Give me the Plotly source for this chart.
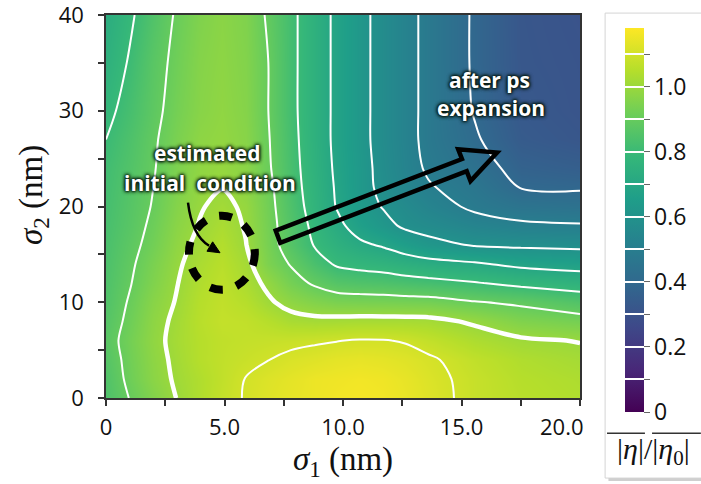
import plotly.graph_objects as go

# Sample positions (nm) of the |eta|/|eta0| map
sigma1_nm = [0, 1.05, 2.0, 3.0, 3.95, 4.9, 5.9, 6.85, 7.8, 8.8, 9.75,
             10.7, 11.7, 12.65, 13.6, 15.55, 17.5, 20]
sigma2_nm = [0, 2, 4, 6, 8, 10, 12, 14, 16, 18, 20, 22, 24, 27, 30, 35, 40]

# |eta|/|eta0|, one row per sigma2 value (rows follow sigma2_nm)
row_s2_00 = [0.845, 0.905, 0.955, 1.002, 1.040, 1.075, 1.105, 1.125, 1.140, 1.150, 1.160, 1.165, 1.160, 1.145, 1.125, 1.080, 1.055, 1.040]
row_s2_02 = [0.850, 0.920, 0.970, 1.010, 1.040, 1.070, 1.102, 1.120, 1.135, 1.150, 1.155, 1.160, 1.155, 1.140, 1.120, 1.080, 1.050, 1.035]
row_s2_04 = [0.860, 0.925, 0.975, 1.015, 1.050, 1.070, 1.085, 1.099, 1.115, 1.125, 1.135, 1.140, 1.135, 1.125, 1.110, 1.070, 1.040, 1.020]
row_s2_06 = [0.870, 0.930, 0.980, 1.020, 1.050, 1.068, 1.075, 1.080, 1.085, 1.092, 1.098, 1.104, 1.103, 1.095, 1.075, 1.035, 1.010, 0.997]
row_s2_08 = [0.860, 0.920, 0.975, 1.015, 1.055, 1.075, 1.070, 1.050, 1.025, 1.018, 1.020, 1.023, 1.023, 1.022, 1.020, 0.990, 0.950, 0.930]
row_s2_10 = [0.850, 0.910, 0.965, 1.005, 1.050, 1.070, 1.050, 1.010, 0.977, 0.954, 0.940, 0.937, 0.935, 0.932, 0.929, 0.905, 0.887, 0.853]
row_s2_12 = [0.845, 0.898, 0.950, 0.998, 1.040, 1.065, 1.030, 0.985, 0.930, 0.890, 0.860, 0.850, 0.845, 0.835, 0.826, 0.805, 0.780, 0.757]
row_s2_14 = [0.840, 0.890, 0.940, 0.990, 1.030, 1.055, 1.020, 0.945, 0.895, 0.835, 0.790, 0.775, 0.763, 0.745, 0.730, 0.710, 0.680, 0.665]
row_s2_16 = [0.835, 0.880, 0.925, 0.980, 1.015, 1.045, 1.002, 0.935, 0.860, 0.795, 0.750, 0.715, 0.690, 0.655, 0.624, 0.593, 0.585, 0.580]
row_s2_18 = [0.830, 0.870, 0.915, 0.970, 1.003, 1.030, 0.995, 0.930, 0.855, 0.780, 0.720, 0.665, 0.625, 0.585, 0.570, 0.535, 0.515, 0.507]
row_s2_20 = [0.825, 0.865, 0.905, 0.960, 0.995, 1.015, 0.990, 0.925, 0.845, 0.765, 0.695, 0.640, 0.595, 0.565, 0.535, 0.485, 0.455, 0.445]
row_s2_22 = [0.820, 0.860, 0.900, 0.950, 0.985, 0.998, 0.975, 0.920, 0.835, 0.760, 0.690, 0.630, 0.580, 0.540, 0.507, 0.465, 0.397, 0.390]
row_s2_24 = [0.815, 0.855, 0.895, 0.945, 0.980, 0.990, 0.970, 0.910, 0.830, 0.755, 0.685, 0.630, 0.575, 0.530, 0.490, 0.440, 0.370, 0.355]
row_s2_27 = [0.800, 0.845, 0.890, 0.940, 0.975, 0.985, 0.965, 0.905, 0.825, 0.750, 0.680, 0.625, 0.570, 0.525, 0.480, 0.410, 0.340, 0.320]
row_s2_30 = [0.780, 0.830, 0.880, 0.930, 0.965, 0.980, 0.960, 0.900, 0.820, 0.750, 0.680, 0.625, 0.570, 0.525, 0.480, 0.395, 0.330, 0.312]
row_s2_35 = [0.750, 0.810, 0.870, 0.920, 0.960, 0.975, 0.955, 0.900, 0.820, 0.750, 0.680, 0.625, 0.570, 0.525, 0.480, 0.390, 0.322, 0.310]
row_s2_40 = [0.730, 0.790, 0.850, 0.910, 0.950, 0.970, 0.950, 0.890, 0.820, 0.750, 0.680, 0.625, 0.570, 0.525, 0.480, 0.390, 0.320, 0.305]

eta_ratio = [row_s2_00, row_s2_02, row_s2_04, row_s2_06, row_s2_08, row_s2_10,
             row_s2_12, row_s2_14, row_s2_16, row_s2_18, row_s2_20, row_s2_22,
             row_s2_24, row_s2_27, row_s2_30, row_s2_35, row_s2_40]

x_tick_vals = [0, 5, 10, 15, 20]
x_tick_text = ["0", "5.0", "10.0", "15.0", ""]   # last label is placed separately
x_last_label = "20.0"
y_tick_vals = [0, 10, 20, 30, 40]
y_tick_text = ["0", "10", "20", "30", "40"]
cb_tick_vals = [0, 0.1, 0.2, 0.3, 0.4, 0.5, 0.6, 0.7, 0.8, 0.9, 1.0, 1.1]
cb_tick_text = ["0", "", "0.2", "", "0.4", "", "0.6", "", "0.8", "", "1.0", ""]

SANS = "Open Sans"
SERIF = "Liberation Serif"
TICK_FONT = dict(family=SANS, size=22, color="#111111")
TITLE_FONT = dict(family=SERIF, size=33, color="#111111")
GLOW = "#06180f"
LABEL_FONT = dict(family=SANS, size=21, color="white", weight="bold",
                  shadow=f"0px 0px 2px {GLOW}, 0px 0px 3px {GLOW}, 0px 0px 4px {GLOW}, 0px 0px 4px {GLOW}")

fig = go.Figure()

# Filled map with thin contours every 0.1
fig.add_trace(go.Contour(
    x=sigma1_nm, y=sigma2_nm, z=eta_ratio,
    colorscale="Viridis", zmin=0, zmax=1.18, zauto=False,
    autocontour=False,
    contours=dict(start=0.1, end=1.1, size=0.1, coloring="heatmap", showlines=True),
    line=dict(color="white", width=2, smoothing=0.9),
    hoverinfo="skip",
    colorbar=dict(
        x=1.095, xanchor="left", xpad=0,
        y=0.966, yanchor="top", ypad=0,
        len=384, lenmode="pixels", thickness=19, thicknessmode="pixels",
        outlinewidth=0,
        tickmode="array", tickvals=cb_tick_vals, ticktext=cb_tick_text,
        ticks="outside", ticklen=6, tickcolor="#666666",
        tickfont=dict(family=SANS, size=23, color="#111111"),
    ),
))

# Emphasised |eta| = |eta0| contour
fig.add_trace(go.Contour(
    x=sigma1_nm, y=sigma2_nm, z=eta_ratio,
    autocontour=False,
    contours=dict(start=1.0, end=1.0, size=0.5, coloring="none"),
    line=dict(color="white", width=4.5, smoothing=0.9),
    showscale=False, hoverinfo="skip",
))

shapes = []
# Colour-bar panel (shadow + frame)
shapes.append(dict(type="rect", xref="paper", yref="paper", x0=1.060, x1=1.30,
                   y0=-0.217, y1=0.997, fillcolor="#cfcfcf", line=dict(width=0),
                   layer="below"))
shapes.append(dict(type="rect", xref="paper", yref="paper", x0=1.053, x1=1.30,
                   y0=-0.209, y1=1.005, fillcolor="white",
                   line=dict(color="#d4d4d4", width=1), layer="below"))
# Overlines above the colour-bar label
shapes.append(dict(type="line", xref="paper", yref="paper", x0=1.057, x1=1.137,
                   y0=-0.092, y1=-0.092, line=dict(color="#333333", width=1.5)))
shapes.append(dict(type="line", xref="paper", yref="paper", x0=1.152, x1=1.255,
                   y0=-0.092, y1=-0.092, line=dict(color="#333333", width=1.5)))

# Dashed ellipse around the starting region
shapes.append(dict(type="circle", xref="x", yref="y", x0=3.50, x1=6.28, y0=11.30, y1=19.04,
                   line=dict(color="black", width=8, dash="13px,14px")))
# Curved pointer into the ellipse
shapes.append(dict(type="path", xref="x", yref="y",
                   path="M 3.46,20.40 Q 3.63,16.95 4.35,15.90",
                   line=dict(color="black", width=2.5)))
shapes.append(dict(type="path", xref="x", yref="y",
                   path="M 4.81,15.17 L 4.26,15.33 L 4.50,16.31 Z",
                   fillcolor="black", line=dict(color="black", width=1)))
# Hollow block arrow
shapes.append(dict(type="path", xref="x", yref="y",
                   path=("M 7.16,17.48 L 15.02,24.96 L 14.86,25.98 L 16.50,25.63 "
                         "L 15.38,22.66 L 15.22,23.68 L 7.35,16.20 Z"),
                   fillcolor="rgba(0,0,0,0)", line=dict(color="black", width=4.5)))

annotations = [
    dict(x=4.30, y=25.63, xref="x", yref="y", text="estimated", showarrow=False,
         font=LABEL_FONT),
    dict(x=4.37, y=22.49, xref="x", yref="y", text="initial&nbsp;&nbsp;condition",
         showarrow=False, font=LABEL_FONT),
    dict(x=16.20, y=33.26, xref="x", yref="y", text="after ps", showarrow=False,
         font=LABEL_FONT),
    dict(x=16.24, y=30.33, xref="x", yref="y", text="expansion", showarrow=False,
         font=LABEL_FONT),
    # last x tick label, pulled inside the frame edge
    dict(x=0.962, y=-0.072, xref="paper", yref="paper", text=x_last_label,
         showarrow=False, xanchor="center", yanchor="middle", font=TICK_FONT),
    # y-axis title
    dict(x=-0.154, y=0.53, xref="paper", yref="paper",
         text="<i>σ</i><sub>2</sub> (nm)", textangle=-90, showarrow=False,
         xanchor="center", yanchor="middle", font=TITLE_FONT),
    # colour-bar label
    dict(x=1.156, y=-0.138, xref="paper", yref="paper",
         text="|<i>η</i>|/|<i>η</i><sub>0</sub>|", showarrow=False,
         xanchor="center", yanchor="middle",
         font=dict(family=SERIF, size=30, color="#111111")),
]

fig.update_layout(
    width=701, height=484, autosize=False,
    margin=dict(l=106, r=121, t=15, b=86),
    paper_bgcolor="white", plot_bgcolor="white",
    shapes=shapes, annotations=annotations,
    xaxis=dict(
        range=[0, 20], tickmode="array", tickvals=x_tick_vals, ticktext=x_tick_text,
        automargin=False,
        ticks="outside", ticklen=6, tickwidth=1.5, tickcolor="#333333",
        ticklabelstandoff=3, ticklabeloverflow="allow",
        minor=dict(tickvals=[2.5, 7.5, 12.5, 17.5], ticks="outside", ticklen=6,
                   tickwidth=1.5, tickcolor="#333333"),
        showline=True, linecolor="#333333", linewidth=1.5, mirror=True,
        showgrid=False, zeroline=False, tickfont=TICK_FONT,
        title=dict(text="<i>σ</i><sub>1</sub> (nm)", standoff=4, font=TITLE_FONT),
    ),
    yaxis=dict(
        range=[0, 40], tickmode="array", tickvals=y_tick_vals, ticktext=y_tick_text,
        automargin=False,
        ticks="outside", ticklen=6, tickwidth=1.5, tickcolor="#333333",
        ticklabelstandoff=10, ticklabeloverflow="allow",
        minor=dict(tickvals=[5, 15, 25, 35], ticks="outside", ticklen=6,
                   tickwidth=1.5, tickcolor="#333333"),
        showline=True, linecolor="#333333", linewidth=1.5, mirror=True,
        showgrid=False, zeroline=False, tickfont=TICK_FONT,
    ),
)

fig.write_html("out.html")
